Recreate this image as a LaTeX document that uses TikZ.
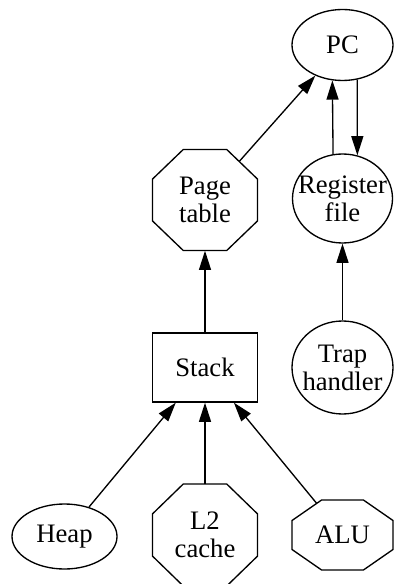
\documentclass[tikz,border=0pt]{standalone}
\usepackage{fontspec}
\setmainfont{Liberation Serif}
\usetikzlibrary{shapes.geometric,arrows.meta}
\newcommand\octagonpath[3]{%
  \draw[shapeline,shift={(#1)}] (-#2,{-0.4142*#3}) -- (-#2,{0.4142*#3}) -- ({-0.4142*#2},#3) -- ({0.4142*#2},#3) -- (#2,{0.4142*#3}) -- (#2,{-0.4142*#3}) -- ({0.4142*#2},-#3) -- ({-0.4142*#2},-#3) -- cycle;}
\begin{document}
\begin{tikzpicture}[x=0.75pt,y=-0.75pt,
  lbl/.style={font=\fontsize{20}{21}\selectfont, align=center, inner sep=0pt},
  shapeline/.style={draw=black, line width=1pt},
  ell/.style={ellipse, shapeline, inner sep=0pt},
  box/.style={rectangle, inner sep=0pt},
  edge/.style={line width=1pt, -{Triangle[length=14.4pt,width=9pt]}}]
\useasboundingbox (0,0) rectangle (393,584);

% nodes
\node[ell, lbl, minimum width=75.75pt, minimum height=53.25pt] (pc) at (342.5,45) {PC};
\node[ell, minimum width=75pt, minimum height=66.75pt] (reg) at (342.5,198.5) {};
\node[lbl] (reg-t) at (reg) {Register\\file};
\node[ell, minimum width=75.75pt, minimum height=69.75pt] (trap) at (342.5,367.5) {};
\node[lbl] (trap-t) at (trap) {Trap\\handler};
\node[box, lbl, minimum width=78.75pt, minimum height=75.75pt] (pt) at (205,200) {Page\\table};
\octagonpath{pt}{52.5}{50.5}
\node[box, shapeline, lbl, minimum width=78.75pt, minimum height=51.75pt] (stack) at (205,367.5) {Stack};
\node[ell, lbl, minimum width=78.75pt, minimum height=48.75pt] (heap) at (64.5,536.5) {Heap};
\node[box, lbl, minimum width=78.75pt, minimum height=76.5pt] (l2) at (205,535) {L2\\cache};
\octagonpath{l2}{52.5}{51}
\node[box, lbl, minimum width=75.75pt, minimum height=52.5pt] (alu) at (342.5,535) {ALU};
\octagonpath{alu}{50.5}{35}

% edges
\coordinate (pt-out) at (239.2,161.5);
\coordinate (alu-out) at (316.7,503.4);
\draw[edge] (pt-out) -- (pc);
\draw[edge] (reg.102.3) -- (pc.254.8);
\draw[edge] (pc.293.1) -- (reg.71.2);
\draw[edge] (trap) -- (reg);
\draw[edge] (stack) -- (pt);
\draw[edge] (heap) -- (stack);
\draw[edge] (l2) -- (stack);
\draw[edge] (alu-out) -- (stack);
\end{tikzpicture}
\end{document}
